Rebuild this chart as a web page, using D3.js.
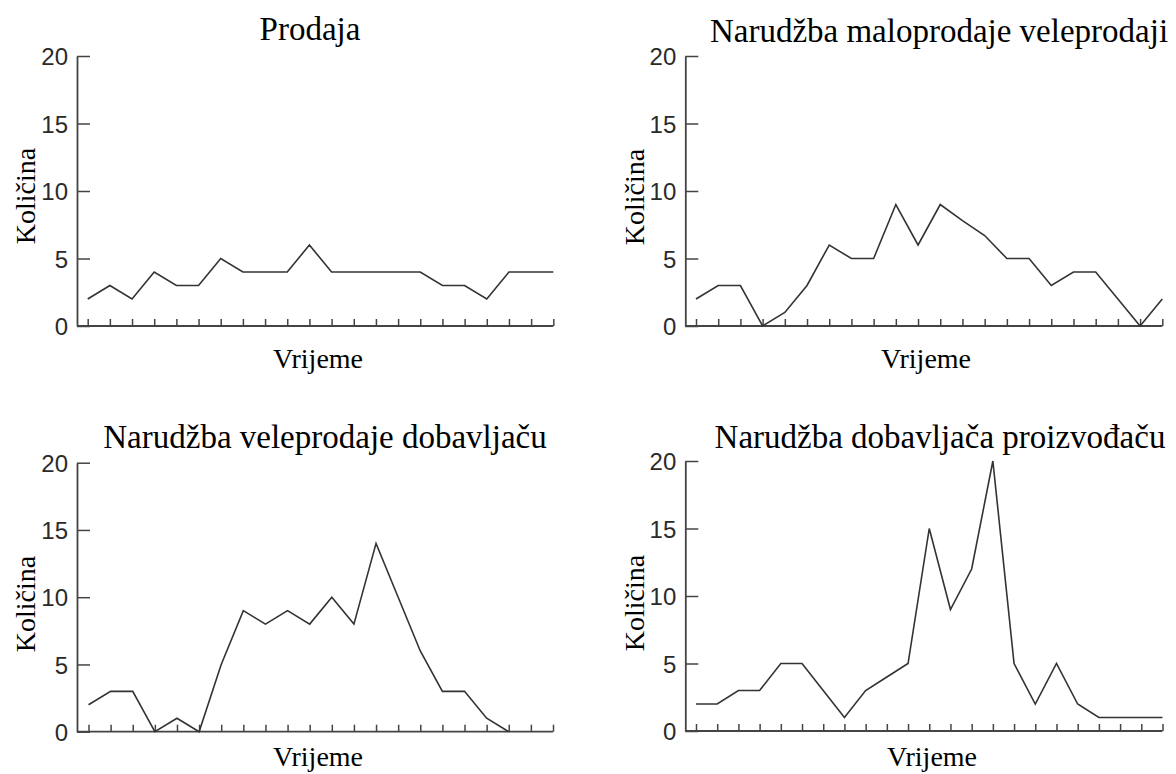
<!DOCTYPE html>
<html>
<head>
<meta charset="utf-8">
<script src="https://cdn.jsdelivr.net/npm/d3@7"></script>
<style>
  html, body { margin: 0; padding: 0; background: #ffffff; }
  svg { display: block; }
</style>
</head>
<body>
<svg id="chart" width="1176" height="774"></svg>
<script>
// ---- data ----
const panelTitles = [
  "Prodaja",
  "Narudžba maloprodaje veleprodaji",
  "Narudžba veleprodaje dobavljaču",
  "Narudžba dobavljača proizvođaču"
];
const salesValues = [2, 3, 2, 4, 3, 3, 5, 4, 4, 4, 6, 4, 4, 4, 4, 4, 3, 3, 2, 4, 4, 4];
const retailOrderValues = [2, 3, 3, 0, 1, 3, 6, 5, 5, 9, 6, 9, 7.8, 6.7, 5, 5, 3, 4, 4, 2, 0, 2];
const wholesaleOrderValues = [2, 3, 3, 0, 1, 0, 5, 9, 8, 9, 8, 10, 8, 14, 10, 6, 3, 3, 1, 0];
const distributorOrderValues = [2, 2, 3, 3, 5, 5, 3, 1, 3, 4, 5, 15, 9, 12, 20, 5, 2, 5, 2, 1, 1, 1, 1];
const periodCounts = [22, 22, 22, 23];
const yTickValues = [0, 5, 10, 15, 20];
const yAxisLabel = "Količina";
const xAxisLabel = "Vrijeme";

// ---- layout (positions only) ----
const layout = [
  { axisX: 77,  x0: 87.7, x1: 553.3, yBottom: 326,   yTop: 56,    titleX: 310, titleY: 40,  xLabelX: 318, xLabelY: 368, yLabelX: 35,  yLabelY: 196 },
  { axisX: 685.3, x0: 696, x1: 1162.3, yBottom: 326, yTop: 56,    titleX: 939, titleY: 42,  xLabelX: 926, xLabelY: 368, yLabelX: 644, yLabelY: 197 },
  { axisX: 77,  x0: 88.5, x1: 553,   yBottom: 731.7, yTop: 462.7, titleX: 325, titleY: 448, xLabelX: 318, xLabelY: 766, yLabelX: 35,  yLabelY: 604 },
  { axisX: 685.3, x0: 696, x1: 1162.5, yBottom: 731, yTop: 461,   titleX: 940, titleY: 448, xLabelX: 932, xLabelY: 766, yLabelX: 644, yLabelY: 603 }
];
const seriesList = [salesValues, retailOrderValues, wholesaleOrderValues, distributorOrderValues];

const svg = d3.select("#chart");
const serif = "'Liberation Serif', 'Times New Roman', serif";
const tickFont = "'Liberation Sans Narrow', 'Arial Narrow', 'Liberation Sans', sans-serif";

// detect narrow font availability
const probeA = svg.append("text").attr("font-family", "'Liberation Sans Narrow'").attr("font-size", 24).text("2015");
const probeB = svg.append("text").attr("font-family", "'Liberation Sans'").attr("font-size", 24).text("2015");
const narrowAvailable = probeA.node().getComputedTextLength() < probeB.node().getComputedTextLength() - 2;
probeA.remove(); probeB.remove();

seriesList.forEach((values, i) => {
  const L = layout[i];
  const n = periodCounts[i];
  const x = d3.scaleLinear().domain([0, n - 1]).range([L.x0, L.x1]);
  const y = d3.scaleLinear().domain([0, 20]).range([L.yBottom, L.yTop]);
  const g = svg.append("g");

  // y axis
  const yAx = g.append("g")
    .attr("transform", `translate(${L.axisX},0)`)
    .call(d3.axisLeft(y).tickValues(yTickValues).tickSizeInner(-13).tickSizeOuter(0).tickPadding(9));
  yAx.select(".domain").attr("stroke", "#444").attr("stroke-width", 1.8);
  yAx.selectAll(".tick line").attr("stroke", "#444").attr("stroke-width", 1.5);
  yAx.selectAll(".tick text")
    .attr("font-family", tickFont)
    .attr("font-size", 24)
    .attr("fill", "#2a2a2a")
    .attr("dy", "0.36em");
  if (!narrowAvailable) {
    yAx.selectAll(".tick text").each(function () {
      const t = d3.select(this);
      t.attr("transform", `translate(${-9},0) scale(0.82,1) translate(${9},0)`);
    });
  }

  // x axis
  const xAx = g.append("g")
    .attr("transform", `translate(0,${L.yBottom})`)
    .call(d3.axisBottom(x).ticks(n).tickValues(d3.range(n)).tickSizeInner(-7).tickSizeOuter(0).tickFormat(""));
  xAx.select(".domain").remove();
  xAx.selectAll(".tick line").attr("stroke", "#444").attr("stroke-width", 1.5);
  g.append("line")
    .attr("x1", L.axisX).attr("x2", x(n - 1))
    .attr("y1", L.yBottom).attr("y2", L.yBottom)
    .attr("stroke", "#444").attr("stroke-width", 1.8);

  // line
  g.append("path")
    .datum(values)
    .attr("fill", "none")
    .attr("stroke", "#333")
    .attr("stroke-width", 1.6)
    .attr("stroke-linejoin", "miter")
    .attr("d", d3.line().x((d, j) => x(j)).y(d => y(d)));

  // title
  g.append("text")
    .attr("x", L.titleX).attr("y", L.titleY)
    .attr("text-anchor", "middle")
    .attr("font-family", serif).attr("font-size", 33)
    .attr("fill", "#000")
    .text(panelTitles[i]);

  // x label
  g.append("text")
    .attr("x", L.xLabelX).attr("y", L.xLabelY)
    .attr("text-anchor", "middle")
    .attr("font-family", serif).attr("font-size", 28)
    .attr("fill", "#000")
    .text(xAxisLabel);

  // y label
  g.append("text")
    .attr("transform", `translate(${L.yLabelX},${L.yLabelY}) rotate(-90)`)
    .attr("text-anchor", "middle")
    .attr("font-family", serif).attr("font-size", 28)
    .attr("fill", "#000")
    .text(yAxisLabel);
});
</script>
</body>
</html>
